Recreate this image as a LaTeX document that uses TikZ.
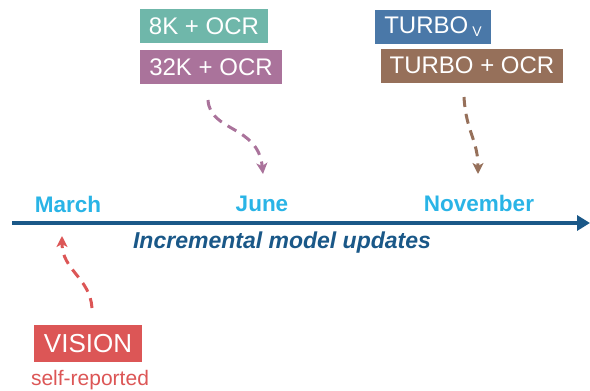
\documentclass[tikz,border=0pt]{standalone}
\usepackage{fontspec}
\setmainfont{Liberation Sans}
\usetikzlibrary{arrows.meta}
\definecolor{tealbox}{HTML}{6FB7AA}
\definecolor{plumbox}{HTML}{AA739B}
\definecolor{bluebox}{HTML}{4A78A8}
\definecolor{brownbox}{HTML}{96705A}
\definecolor{redbox}{HTML}{DC5656}
\definecolor{monthblue}{HTML}{2AB4E6}
\definecolor{axisblue}{HTML}{1A5888}
\tikzset{
  model/.style={rectangle, fill=#1, text=white, inner xsep=9pt, inner ysep=0pt,
    minimum height=34pt, font=\fontsize{24}{24}\selectfont},
  month/.style={text=monthblue, font=\fontsize{22.5}{22.5}\selectfont\bfseries},
  update/.style={line width=3pt, dash pattern=on 10pt off 7pt, #1,
    -{Stealth[length=11pt,width=11pt,inset=3pt,sep=0pt]}}
}
\begin{document}
\begin{tikzpicture}[x=1pt,y=-1pt]
  \useasboundingbox (0,0) rectangle (590,391);

  % linha do tempo
  \coordinate (axisstart) at (12,223);
  \coordinate (axisend) at (590,223);
  \draw[axisblue, line width=4pt, -{Triangle[length=13pt,width=15pt]}] (axisstart) -- (axisend);
  \node[month] (march) at (68,204) {March};
  \node[month] (june) at (262,204) {June};
  \node[month] (november) at (479,203) {November};
  \node[text=axisblue, font=\fontsize{23}{23}\selectfont\bfseries\itshape] (updates) at (282,243) {Incremental model updates};

  % modelos
  \node[model=tealbox] (eightk) at (204,26) {8K + OCR};
  \node[model=plumbox] (thirtytwok) at (211,67) {32K + OCR};
  \node[model=bluebox] (turbov) at (433,26.5) {TURBO\,\raisebox{-3pt}{\fontsize{14}{14}\selectfont V}};
  \node[model=brownbox] (turboocr) at (472,65.5) {TURBO + OCR};
  \node[model=redbox, minimum height=37pt, inner xsep=10pt, font=\fontsize{26}{26}\selectfont] (vision) at (88,343.5) {VISION};
  \node[text=redbox, font=\fontsize{21}{21}\selectfont] (selfrep) at (90,380) {self-reported};

  % setas
  \coordinate (plumstart) at (208,100);
  \coordinate (plumend) at (263,174);
  \coordinate (brownstart) at (464,97);
  \coordinate (brownend) at (478,174);
  \coordinate (redstart) at (92,308);
  \coordinate (redend) at (62,236);
  \draw[update=plumbox] (plumstart) .. controls (210,132) and (258,125) .. (plumend);
  \draw[update=brownbox] (brownstart) .. controls (466,132) and (478,140) .. (brownend);
  \draw[update=redbox] (redstart) .. controls (90,278) and (62,270) .. (redend);
\end{tikzpicture}
\end{document}
